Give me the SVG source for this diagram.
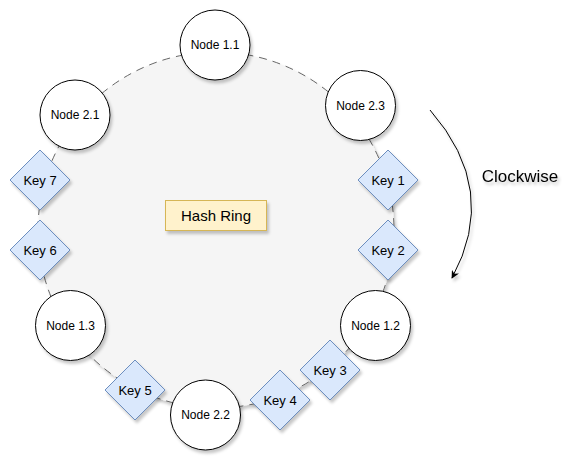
<svg xmlns="http://www.w3.org/2000/svg" width="587" height="468" viewBox="0 0 587 468">
<defs>
<filter id="sh" x="-20%" y="-20%" width="150%" height="150%">
<feDropShadow dx="2" dy="3" stdDeviation="1.5" flood-color="#000" flood-opacity="0.22"/>
</filter>
<marker id="ah" viewBox="0 0 10 10" refX="9" refY="5" markerWidth="8" markerHeight="8" orient="auto" markerUnits="userSpaceOnUse">
<path d="M0,0 L10,5 L0,10 L3,5 Z" fill="#000"/>
</marker>
<style>
text{font-family:"Liberation Sans",Arial,sans-serif;fill:#000;text-anchor:middle;dominant-baseline:central}
.node circle{fill:#fff;stroke:#000;stroke-width:1;filter:url(#sh)}
.node text{font-size:12px}
.key path{fill:#dae8fc;stroke:#6c8ebf;stroke-width:1;filter:url(#sh)}
.key text{font-size:13px}
</style>
</defs>
<g id="ring">
<circle cx="216" cy="230" r="178" fill="#f5f5f5" stroke="#666" stroke-width="1" stroke-dasharray="8 6" filter="url(#sh)"/>
</g>
<g id="hash-ring">
<rect x="165.5" y="200.5" width="101" height="30" fill="#fff2cc" stroke="#d6b656" filter="url(#sh)"/>
<text x="216" y="215.5" font-size="15">Hash Ring</text>
</g>
<g id="connectors">
<path d="M430,110 Q500,190 452,278" fill="none" stroke="#000" stroke-width="1" marker-end="url(#ah)" filter="url(#sh)"/>
</g>
<g id="clockwise-label">
<text x="520" y="176" font-size="17" filter="url(#sh)">Clockwise</text>
</g>
<g id="node-1-1" class="node"><circle cx="215" cy="45" r="35"/><text x="215" y="45">Node 1.1</text></g>
<g id="node-2-3" class="node"><circle cx="360.5" cy="105.5" r="35"/><text x="360.5" y="105.5">Node 2.3</text></g>
<g id="node-1-2" class="node"><circle cx="375.5" cy="325.5" r="35"/><text x="375.5" y="325.5">Node 1.2</text></g>
<g id="node-2-2" class="node"><circle cx="205.5" cy="415" r="35"/><text x="205.5" y="415">Node 2.2</text></g>
<g id="node-1-3" class="node"><circle cx="70.5" cy="325.5" r="35"/><text x="70.5" y="325.5">Node 1.3</text></g>
<g id="node-2-1" class="node"><circle cx="75" cy="115" r="35"/><text x="75" y="115">Node 2.1</text></g>
<g id="key-1" class="key"><path d="M388,150 L418,180 L388,210 L358,180 Z"/><text x="388" y="180">Key 1</text></g>
<g id="key-2" class="key"><path d="M388,220 L418,250 L388,280 L358,250 Z"/><text x="388" y="250">Key 2</text></g>
<g id="key-3" class="key"><path d="M330,340 L360,370 L330,400 L300,370 Z"/><text x="330" y="370">Key 3</text></g>
<g id="key-4" class="key"><path d="M280,370 L310,400 L280,430 L250,400 Z"/><text x="280" y="400">Key 4</text></g>
<g id="key-5" class="key"><path d="M135,360 L165,390 L135,420 L105,390 Z"/><text x="135" y="390">Key 5</text></g>
<g id="key-6" class="key"><path d="M40,220 L70,250 L40,280 L10,250 Z"/><text x="40" y="250">Key 6</text></g>
<g id="key-7" class="key"><path d="M40,150 L70,180 L40,210 L10,180 Z"/><text x="40" y="180">Key 7</text></g>
</svg>
